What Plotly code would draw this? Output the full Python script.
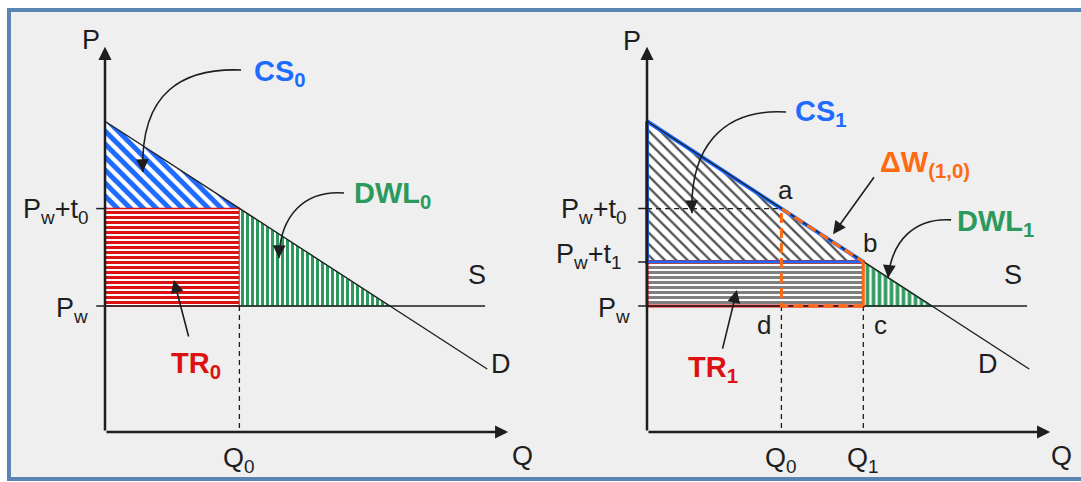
import plotly.graph_objects as go
import numpy as np

# price levels
p_world = 3.0      # Pw
p_t0 = 5.32        # Pw + t0
p_t1 = 4.05        # Pw + t1
# quantities
q0 = 3.2
q1 = 5.15
q_free = 6.77      # demand meets Pw
# demand curve and world supply line
demand_q = [0.0, 9.1]
demand_p = [7.4, 1.5]
supply_q = [0.0, 9.05]
supply_p = [p_world, p_world]
p_top = demand_p[0]

# axis arrow ends
q_axis_end = 9.6
p_axis_end = 9.17

BLUE = '#1e6bff'
GREEN = '#2b9a5c'
RED = '#dd1111'
ORANGE = '#ff6a10'
INK = '#1e1e1e'
FONT = 'Liberation Sans, Arial, sans-serif'

fig = go.Figure()


def axes(panel):
    return ('x', 'y') if panel == 0 else ('x2', 'y2')


def poly(panel, qs, ps, **kw):
    xa, ya = axes(panel)
    fig.add_trace(go.Scatter(x=qs, y=ps, xaxis=xa, yaxis=ya, hoverinfo='skip',
                             showlegend=False, **kw))


def hatch(panel, qs, ps, shape, fg, size, solidity, line_color=None, line_width=0):
    poly(panel, qs, ps, mode='lines', fill='toself', fillcolor='white',
         fillpattern=dict(shape=shape, fgcolor=fg, bgcolor='white', fgopacity=1,
                          size=size, solidity=solidity),
         line=dict(width=line_width, color=line_color or fg))


def seg(panel, qs, ps, color=INK, width=1.5, dash='solid'):
    poly(panel, qs, ps, mode='lines', line=dict(color=color, width=width, dash=dash))


def arrow(panel, tip, tail, width=1.6, size=1.6, head=2):
    xa, ya = axes(panel)
    fig.add_annotation(x=tip[0], y=tip[1], ax=tail[0], ay=tail[1], xref=xa, yref=ya,
                       axref=xa, ayref=ya, text='', showarrow=True, arrowhead=head,
                       arrowsize=size, arrowwidth=width, arrowcolor=INK)


def curved(panel, p0, c1, c2, p3):
    xa, ya = axes(panel)
    fig.add_shape(type='path', xref=xa, yref=ya,
                  path=f'M{p0[0]},{p0[1]} C{c1[0]},{c1[1]} {c2[0]},{c2[1]} {p3[0]},{p3[1]}',
                  line=dict(color=INK, width=1.6))
    d = np.array(p3) - np.array(c2)
    d = d / np.hypot(*d)
    tail = np.array(p3) - 0.3 * d
    arrow(panel, p3, tail)


def label(panel, x, y, text, color=INK, size=27, xanchor='center', yanchor='middle', bold=False, yshift=0):
    xa, ya = axes(panel)
    if bold:
        text = f'<b>{text}</b>'
    fig.add_annotation(x=x, y=y, xref=xa, yref=ya, text=text, showarrow=False,
                       xanchor=xanchor, yanchor=yanchor, yshift=yshift,
                       font=dict(family=FONT, size=size, color=color))


# ---------------- left panel: tariff t0 ----------------
hatch(0, [0, q0, 0, 0], [p_top, p_t0, p_t0, p_top], '\\', BLUE, 9.19, 0.55)
hatch(0, [0, q0, q0, 0, 0], [p_world, p_world, p_t0, p_t0, p_world], '-', RED, 5, 0.6,
      line_color=RED, line_width=1.5)
hatch(0, [q0, q0, q_free, q0], [p_t0, p_world, p_world, p_t0], '|', GREEN, 5, 0.6,
      line_color=GREEN, line_width=1)
seg(0, [q0, q0], [p_world, 0], dash='5px,4px', width=1.3)

# ---------------- right panel: tariff t1 ----------------
hatch(1, [0, q1, 0, 0], [p_top, p_t1, p_t1, p_top], '\\', '#505050', 8, 0.28,
      line_color=BLUE, line_width=4)
hatch(1, [0, q1, q1, 0, 0], [p_world, p_world, p_t1, p_t1, p_world], '-', '#808080', 5, 0.6,
      line_color=RED, line_width=3)
hatch(1, [q1, q1, q_free, q1], [p_t1, p_world, p_world, p_t1], '|', GREEN, 6, 0.6,
      line_color=GREEN, line_width=1.5)
seg(1, [0, q1], [p_t1, p_t1], color=BLUE, width=2)
seg(1, [0, q0], [p_t0, p_t0], dash='5px,4px', width=1.3)
seg(1, [q0, q0], [p_world, 0], dash='5px,4px', width=1.3)
seg(1, [q1, q1], [p_world, 0], dash='5px,4px', width=1.3)

# curves, axes and ticks on both panels
for pn in (0, 1):
    seg(pn, demand_q, demand_p, width=1.3)
    seg(pn, supply_q, supply_p, width=1.5)
    arrow(pn, (0, p_axis_end), (0, 0), width=2.5, size=1.05)
    arrow(pn, (q_axis_end, 0), (0, 0), width=2.5, size=1.05)

# welfare change outline a-b-c-d on top of the demand line
seg(1, [q1, q1], [p_t1, p_world], color=ORANGE, width=3)
seg(1, [q1, q0, q0, q1], [p_world, p_world, p_t0, p_t1], color=ORANGE, width=3, dash='10px,5px')

for p in (p_t0, p_world):
    seg(0, [-0.21, 0], [p, p], width=1.5)
for p in (p_t0, p_t1, p_world):
    seg(1, [-0.21, 0], [p, p], width=1.5)

# ---------------- labels ----------------
label(0, -0.33, 9.33, 'P')
label(0, 9.93, -0.57, 'Q')
label(0, q0, -0.57, 'Q<sub>0</sub>', yshift=-4)
label(0, 8.86, 3.74, 'S')
label(0, 9.43, 1.62, 'D')
label(0, -0.36, p_t0, 'P<sub>w</sub>+t<sub>0</sub>', xanchor='right', yshift=-2)
label(0, -0.36, p_world, 'P<sub>w</sub>', xanchor='right', yshift=-4)
label(0, 3.5, 8.62, 'CS<sub>0</sub>', color=BLUE, size=29, xanchor='left', bold=True, yshift=-3)
label(0, 5.88, 5.71, 'DWL<sub>0</sub>', color=GREEN, size=29, xanchor='left', bold=True, yshift=-3)
label(0, 1.52, 1.67, 'TR<sub>0</sub>', color=RED, size=29, xanchor='left', bold=True, yshift=-3)

label(1, -0.36, 9.31, 'P')
label(1, 9.88, -0.57, 'Q')
label(1, q0, -0.57, 'Q<sub>0</sub>', yshift=-4)
label(1, q1, -0.57, 'Q<sub>1</sub>', yshift=-4)
label(1, 8.71, 3.74, 'S')
label(1, 8.12, 1.62, 'D')
label(1, -0.45, p_t0, 'P<sub>w</sub>+t<sub>0</sub>', xanchor='right', yshift=-2)
label(1, -0.57, p_t1, 'P<sub>w</sub>+t<sub>1</sub>', xanchor='right', yshift=6)
label(1, -0.36, p_world, 'P<sub>w</sub>', xanchor='right', yshift=-4)
label(1, 3.30, 5.76, 'a', size=26)
label(1, 5.31, 4.50, 'b', size=26)
label(1, 5.55, 2.55, 'c', size=26)
label(1, 2.79, 2.55, 'd', size=26)
label(1, 3.48, 7.67, 'CS<sub>1</sub>', color=BLUE, size=29, xanchor='left', bold=True, yshift=-3)
label(1, 5.5, 6.45, 'ΔW<sub>(1,0)</sub>', color=ORANGE, size=29, xanchor='left', bold=True, yshift=-3)
label(1, 7.33, 5.05, 'DWL<sub>1</sub>', color=GREEN, size=29, xanchor='left', bold=True, yshift=-3)
label(1, 0.93, 1.57, 'TR<sub>1</sub>', color=RED, size=29, xanchor='left', bold=True, yshift=-3)

# ---------------- pointer arrows ----------------
curved(0, (3.24, 8.62), (1.90, 8.67), (0.83, 8.14), (0.90, 6.19))
curved(0, (5.69, 5.69), (4.76, 5.76), (4.17, 5.17), (4.14, 4.14))
arrow(0, (1.64, 3.62), (2.0, 2.24))

curved(1, (3.31, 7.62), (1.74, 7.71), (1.02, 6.71), (1.07, 5.21))
curved(1, (7.24, 5.05), (6.38, 5.10), (5.83, 4.57), (5.74, 3.67))
arrow(1, (4.43, 4.71), (5.43, 6.10))
arrow(1, (2.14, 3.38), (1.79, 1.95))

# frame around both panels
fig.add_shape(type='rect', xref='paper', yref='paper', x0=9 / 1081, x1=1.01,
              y0=1 - 479 / 482, y1=1 - 10 / 482, layer='below',
              line=dict(color='#5a84b4', width=4), fillcolor='#efefef')

fig.update_layout(
    width=1081, height=482,
    margin=dict(l=0, r=0, t=0, b=0),
    paper_bgcolor='white', plot_bgcolor='rgba(0,0,0,0)',
    showlegend=False,
    xaxis=dict(domain=[0, 0.5], range=[-2.5, 10.369], visible=False, anchor='y'),
    yaxis=dict(domain=[0, 1], range=[-1.19, 10.286], visible=False, anchor='x'),
    xaxis2=dict(domain=[0.5, 1], range=[-2.536, 10.333], visible=False, anchor='y2'),
    yaxis2=dict(domain=[0, 1], range=[-1.19, 10.286], visible=False, anchor='x2'),
)

fig.write_html("out.html", config=dict(displayModeBar=False),
               post_script="document.body.style.margin='0';document.body.style.overflow='hidden';")
